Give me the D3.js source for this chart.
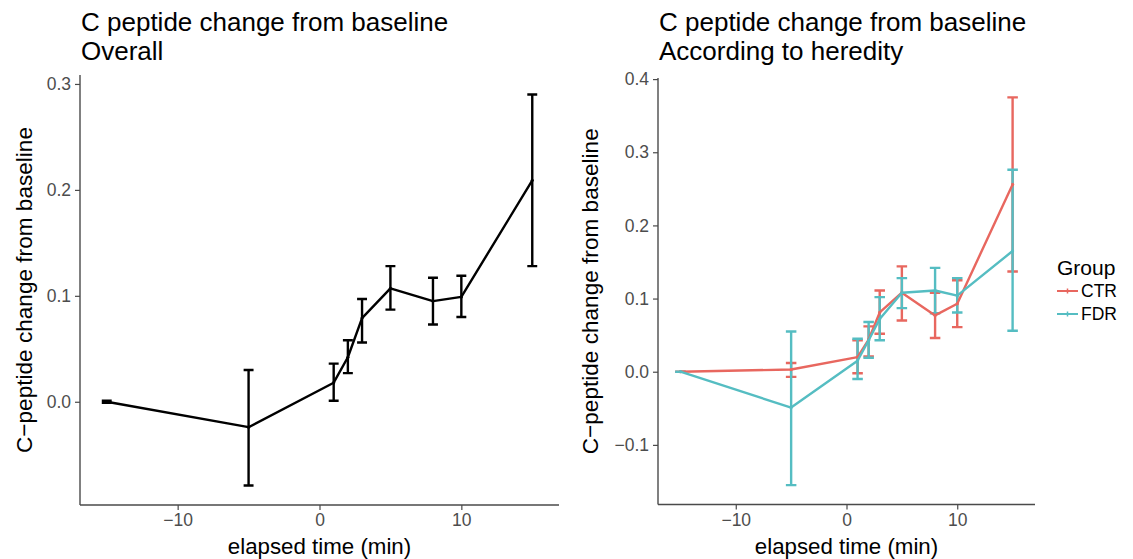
<!DOCTYPE html>
<html>
<head>
<meta charset="utf-8">
<script src="https://cdn.jsdelivr.net/npm/d3@7"></script>
<style>
  body { margin: 0; background: #fff; }
  svg { font-family: "Liberation Sans", Arial, Helvetica, sans-serif; }
</style>
</head>
<body>
<svg id="canvas" width="1133" height="559"></svg>
<script>
// elapsed time points (min)
const times = [-15, -5, 1, 2, 3, 5, 8, 10, 15];

// overall C peptide change from baseline
const overallMean = [0, -0.024, 0.018, 0.042, 0.079, 0.107, 0.095, 0.099, 0.209];
const overallLow  = [-0.001, -0.079, 0.001, 0.027, 0.056, 0.087, 0.073, 0.080, 0.128];
const overallHigh = [0.001, 0.030, 0.036, 0.058, 0.097, 0.128, 0.117, 0.119, 0.290];

// according to heredity
const groups = ["CTR", "FDR"];
const ctrMean = [0, 0.003, 0.020, 0.044, 0.081, 0.108, 0.077, 0.093, 0.256];
const ctrLow  = [0, -0.007, -0.002, 0.021, 0.052, 0.070, 0.046, 0.061, 0.137];
const ctrHigh = [0, 0.012, 0.043, 0.062, 0.111, 0.144, 0.108, 0.125, 0.375];
const fdrMean = [0, -0.049, 0.015, 0.043, 0.072, 0.108, 0.111, 0.104, 0.165];
const fdrLow  = [0, -0.155, -0.010, 0.019, 0.043, 0.087, 0.080, 0.081, 0.056];
const fdrHigh = [0, 0.055, 0.045, 0.068, 0.102, 0.128, 0.142, 0.128, 0.276];

const xTicks = [-10, 0, 10];
const leftYTicks = [0, 0.1, 0.2, 0.3];
const rightYTicks = [-0.1, 0, 0.1, 0.2, 0.3, 0.4];

const groupColors = {"CTR": "#e8675f", "FDR": "#55bdc2"};

function rows(mean, low, high){
    return times.map((t, i) => ({x: t, y: mean[i], lo: low[i], hi: high[i]}));
}

const svg = d3.select('#canvas');

// ggplot style 5% expansion of the range
function expand(lo, hi){
    let pad = (hi - lo) * 0.05;
    return [lo - pad, hi + pad];
}

function drawPanel(opts){
    const allRows = opts.series.flatMap(s => s.data);
    const half = opts.capWidth / 2;
    const x = d3.scaleLinear()
        .domain(expand(d3.min(allRows, d => d.x) - half, d3.max(allRows, d => d.x) + half))
        .range([opts.left, opts.right]);
    const y = d3.scaleLinear()
        .domain(expand(d3.min(allRows, d => d.lo), d3.max(allRows, d => d.hi)))
        .range([opts.bottom, opts.top]);

    const g = svg.append('g');

    //axes
    const xAxis = g.append('g')
        .attr('transform', `translate(0,${opts.bottom})`)
        .call(d3.axisBottom(x).tickValues(xTicks).tickFormat(d3.format('d')).tickSize(5).tickPadding(4));
    const yAxis = g.append('g')
        .attr('transform', `translate(${opts.left},0)`)
        .call(d3.axisLeft(y).tickValues(opts.yTicks).tickFormat(d3.format('.1f')).tickSize(5).tickPadding(4));
    for(let ax of [xAxis, yAxis]){
        ax.select('.domain').attr('stroke', '#4a4a4a').attr('stroke-width', 1.4);
        ax.selectAll('.tick line').attr('stroke', '#4a4a4a').attr('stroke-width', 1.2);
        ax.selectAll('.tick text').attr('fill', '#4d4d4d').style('font-size', '17.5px');
    }
    // extend axis lines to whole panel, like ggplot
    xAxis.select('.domain').attr('d', `M${opts.left},0H${opts.right}`);
    yAxis.select('.domain').attr('d', `M0,${opts.bottom}V${opts.top}`);

    //error bars then lines
    for(let s of opts.series){
        let eb = g.append('g').attr('stroke', s.color).attr('stroke-width', 2.4).attr('fill', 'none');
        eb.selectAll('path')
            .data(s.data)
            .join('path')
            .attr('d', d => `M${x(d.x - half)},${y(d.hi)}H${x(d.x + half)}` +
                            `M${x(d.x)},${y(d.hi)}V${y(d.lo)}` +
                            `M${x(d.x - half)},${y(d.lo)}H${x(d.x + half)}`);
    }
    for(let s of opts.series){
        g.append('path')
            .datum(s.data)
            .attr('fill', 'none')
            .attr('stroke', s.color)
            .attr('stroke-width', 2.4)
            .attr('stroke-linejoin', 'round')
            .attr('d', d3.line().x(d => x(d.x)).y(d => y(d.y)));
        g.append('g').selectAll('circle')
            .data(s.data)
            .join('circle')
            .attr('cx', d => x(d.x))
            .attr('cy', d => y(d.y))
            .attr('r', 1.6)
            .attr('fill', s.color);
    }

    //titles (two lines)
    g.append('text').attr('x', opts.left + 1).attr('y', 31)
        .style('font-size', '26px').text(opts.title[0]);
    g.append('text').attr('x', opts.left + 1).attr('y', 60)
        .style('font-size', '26px').text(opts.title[1]);

    g.append('text')
        .attr('x', (opts.left + opts.right) / 2)
        .attr('y', 554)
        .attr('text-anchor', 'middle')
        .style('font-size', '22.3px')
        .text('elapsed time (min)');

    g.append('text')
        .attr('transform', `translate(${opts.yTitleX},${(opts.top + opts.bottom) / 2}) rotate(-90)`)
        .attr('text-anchor', 'middle')
        .style('font-size', '22.6px')
        .text('C\u2212peptide change from baseline');
}

drawPanel({
    left: 80, right: 559, top: 75, bottom: 505,
    capWidth: 0.7,
    yTicks: leftYTicks,
    yTitleX: 32,
    title: ['C peptide change from baseline', 'Overall'],
    series: [{color: '#000', data: rows(overallMean, overallLow, overallHigh)}]
});

drawPanel({
    left: 658, right: 1035, top: 78, bottom: 504.5,
    capWidth: 0.95,
    yTicks: rightYTicks,
    yTitleX: 598,
    title: ['C peptide change from baseline', 'According to heredity'],
    series: [
        {color: groupColors.CTR, data: rows(ctrMean, ctrLow, ctrHigh)},
        {color: groupColors.FDR, data: rows(fdrMean, fdrLow, fdrHigh)}
    ]
});

//legend
const legend = svg.append('g').attr('transform', 'translate(1057,0)');
legend.append('text').attr('x', 0).attr('y', 275).style('font-size', '21px').text('Group');
legend.selectAll('g.key')
    .data(groups)
    .join('g')
    .attr('class', 'key')
    .attr('transform', (d, i) => `translate(0,${291 + i * 23})`)
    .each(function(d){
        let k = d3.select(this);
        k.append('line').attr('x1', 0).attr('x2', 21).attr('y1', 0).attr('y2', 0)
            .attr('stroke', groupColors[d]).attr('stroke-width', 2);
        k.append('line').attr('x1', 10.5).attr('x2', 10.5).attr('y1', -2.5).attr('y2', 2.5)
            .attr('stroke', groupColors[d]).attr('stroke-width', 1.5);
        k.append('text').attr('x', 24).attr('y', 6).attr('fill', '#000')
            .style('font-size', '17.5px').text(d);
    });
</script>
</body>
</html>
